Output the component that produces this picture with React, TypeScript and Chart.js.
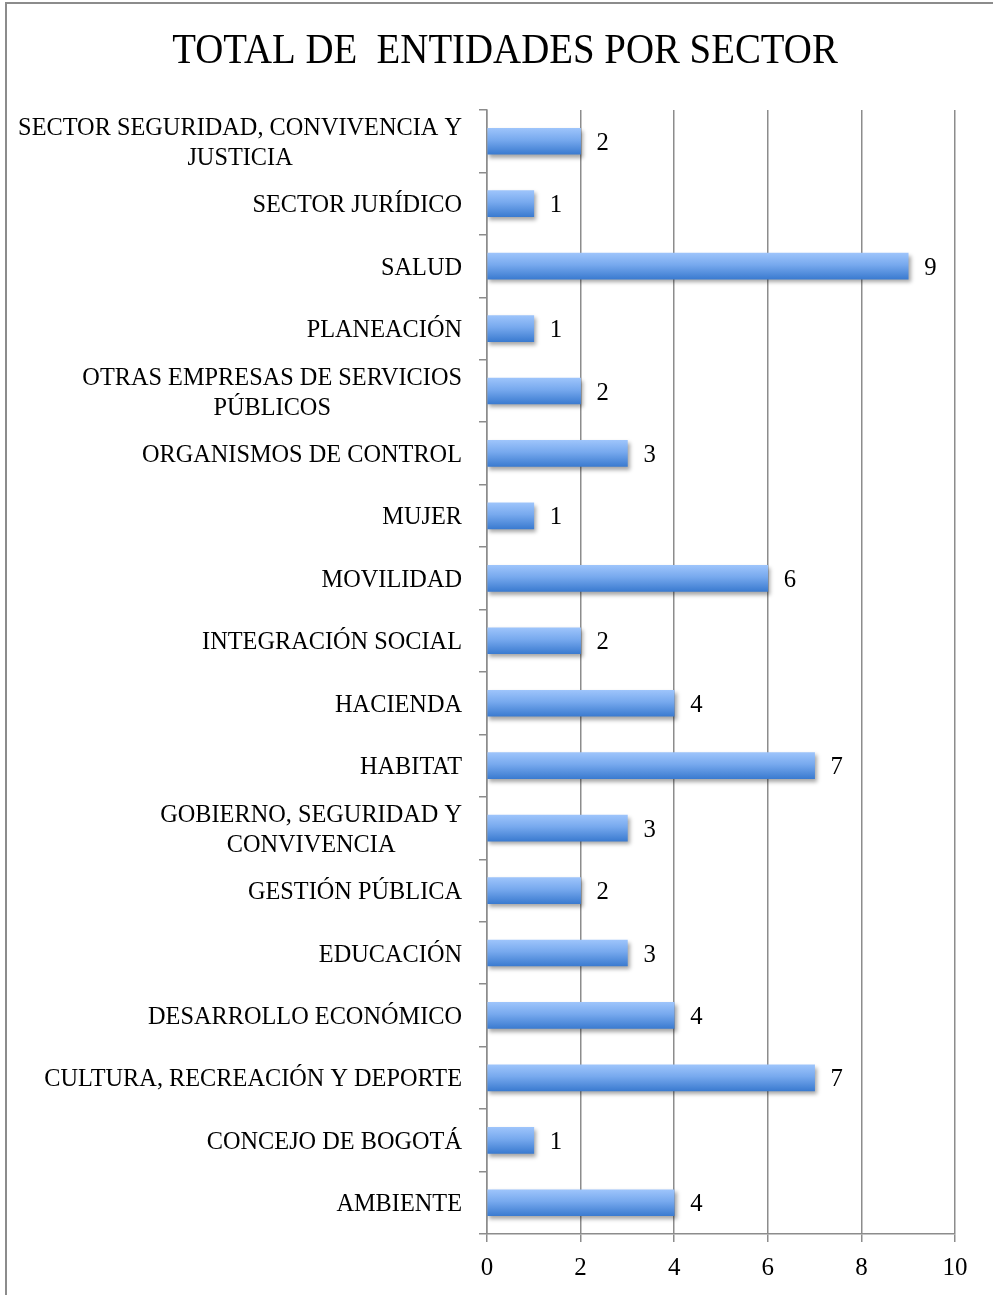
import React, { useEffect, useRef } from "react";
import { Chart, registerables } from "chart.js";

Chart.register(...registerables);

const TITLE = "TOTAL DE  ENTIDADES POR SECTOR";

const categories: string[][] = [
  ["SECTOR SEGURIDAD, CONVIVENCIA Y", "JUSTICIA"],
  ["SECTOR JURÍDICO"],
  ["SALUD"],
  ["PLANEACIÓN"],
  ["OTRAS EMPRESAS DE SERVICIOS", "PÚBLICOS"],
  ["ORGANISMOS DE CONTROL"],
  ["MUJER"],
  ["MOVILIDAD"],
  ["INTEGRACIÓN SOCIAL"],
  ["HACIENDA"],
  ["HABITAT"],
  ["GOBIERNO, SEGURIDAD Y", "CONVIVENCIA"],
  ["GESTIÓN PÚBLICA"],
  ["EDUCACIÓN"],
  ["DESARROLLO ECONÓMICO"],
  ["CULTURA, RECREACIÓN Y DEPORTE"],
  ["CONCEJO DE BOGOTÁ"],
  ["AMBIENTE"],
];

const values: number[] = [2, 1, 9, 1, 2, 3, 1, 6, 2, 4, 7, 3, 2, 3, 4, 7, 1, 4];

const xMin = 0;
const xMax = 10;
const xStep = 2;

const FONT = '"Liberation Serif", "Times New Roman", serif';
const GRID = "#8c8c8c";
const BAR_H = 26;

function drawScaled(ctx: any, text: string, x: number, y: number, align: string, sx: number) {
  ctx.save();
  ctx.translate(x, y);
  ctx.scale(sx, 1);
  ctx.textAlign = align;
  ctx.fillText(text, 0, 0);
  ctx.restore();
}

const customPlugin = {
  id: "customDraw",
  beforeDatasetsDraw(chart: any) {
    const ctx = chart.ctx;
    ctx.save();
    ctx.shadowColor = "rgba(0,0,0,0.35)";
    ctx.shadowBlur = 4;
    ctx.shadowOffsetX = 2;
    ctx.shadowOffsetY = 3;
  },
  afterDatasetsDraw(chart: any) {
    const ctx = chart.ctx;
    ctx.restore();
    ctx.save();
    ctx.fillStyle = "#000";
    ctx.font = `26px ${FONT}`;
    ctx.textBaseline = "alphabetic";
    const meta = chart.getDatasetMeta(0);
    meta.data.forEach((bar: any, i: number) => {
      drawScaled(ctx, String(values[i]), bar.x + 16, bar.y + 8.5, "left", 0.95);
    });
    const ys = chart.scales.y;
    const right = ys.right - 25;
    const sx = 0.935;
    categories.forEach((lines, i) => {
      const cy = ys.getPixelForValue(i);
      const widest = Math.max(...lines.map((l) => ctx.measureText(l).width * sx));
      const cx = right - widest / 2;
      lines.forEach((l, j) => {
        const y = cy + (j - (lines.length - 1) / 2) * 30 + 8.5;
        drawScaled(ctx, l, cx, y, "center", sx);
      });
    });
    ctx.font = `42px ${FONT}`;
    drawScaled(ctx, TITLE, 505, 63, "center", 0.925);
    ctx.restore();
  },
};

export default function App() {
  const ref = useRef<HTMLCanvasElement | null>(null);

  useEffect(() => {
    if (!ref.current) return;
    const chart = new Chart(ref.current, {
      type: "bar",
      data: {
        labels: categories,
        datasets: [
          {
            data: values,
            barThickness: BAR_H,
            borderWidth: 0,
            backgroundColor: (c: any) => {
              const ch = c.chart;
              const ys = ch.scales && ch.scales.y;
              if (!ys || c.dataIndex === undefined) return "#6a9fe6";
              const cy = ys.getPixelForValue(c.dataIndex);
              if (!Number.isFinite(cy)) return "#6a9fe6";
              const g = ch.ctx.createLinearGradient(0, cy - BAR_H / 2, 0, cy + BAR_H / 2);
              g.addColorStop(0, "#9dc4fb");
              g.addColorStop(0.45, "#77a9ee");
              g.addColorStop(1, "#3b7bd0");
              return g;
            },
          },
        ],
      },
      options: {
        indexAxis: "y",
        animation: false,
        responsive: false,
        devicePixelRatio: 1,
        layout: { padding: { top: 110, left: 0, right: 38, bottom: 0 } },
        plugins: {
          legend: { display: false },
          title: { display: false },
          tooltip: { enabled: false },
        },
        scales: {
          x: {
            type: "linear",
            min: xMin,
            max: xMax,
            afterFit: (s: any) => {
              s.height = 61;
            },
            ticks: {
              stepSize: xStep,
              color: "#000",
              font: { family: FONT, size: 25 },
              padding: 11,
            },
            grid: {
              color: GRID,
              lineWidth: 1.5,
              tickLength: 8,
              drawTicks: true,
            },
            border: { display: true, color: GRID, width: 1.5 },
          },
          y: {
            type: "category",
            afterFit: (s: any) => {
              s.width = 487;
            },
            ticks: { display: false },
            grid: {
              drawOnChartArea: false,
              drawTicks: true,
              tickLength: 8,
              color: GRID,
              lineWidth: 1.5,
              offset: true,
            },
            border: { display: true, color: GRID, width: 1.5 },
          },
        },
      },
      plugins: [customPlugin],
    } as any);
    return () => chart.destroy();
  }, []);

  return (
    <div style={{ position: "absolute", left: 0, top: 0, width: 993, height: 1295, overflow: "hidden", background: "#fff" }}>
      <div
        style={{
          position: "absolute",
          left: 5,
          top: 2,
          width: 1000,
          height: 1310,
          borderTop: "2px solid #8c8c8c",
          borderLeft: "2px solid #8c8c8c",
        }}
      />
      <canvas
        ref={ref}
        width={993}
        height={1295}
        style={{ position: "absolute", left: 0, top: 0, width: 993, height: 1295 }}
      />
    </div>
  );
}
